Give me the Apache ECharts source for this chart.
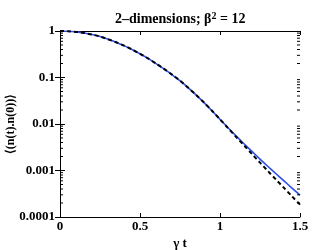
<!DOCTYPE html>
<html><head><meta charset="utf-8">
<script src="https://cdn.jsdelivr.net/npm/echarts@6/dist/echarts.min.js"></script>
<style>html,body{margin:0;padding:0;background:#fff}#c{width:332px;height:250px}</style>
</head><body><div id="c"></div>
<script>
const tValues = [0,0.05,0.1,0.15,0.2,0.25,0.3,0.35,0.4,0.45,0.5,0.55,0.6,0.65,0.7,0.75,0.8,0.85,0.9,0.95,1.0,1.05,1.1,1.15,1.2,1.25,1.3,1.35,1.4,1.45,1.5];
const blueValues = [1,0.989,0.957,0.906,0.839,0.76,0.665,0.574,0.485,0.401,0.324,0.257,0.1995,0.153,0.115,0.0853,0.0608,0.0424,0.0289,0.0193,0.0126,0.00832,0.00556,0.00376,0.00257,0.00176,0.00122,0.000851,0.000596,0.000419,0.000295];
const blackValues = [1,0.989,0.957,0.906,0.839,0.76,0.665,0.574,0.485,0.401,0.324,0.257,0.1995,0.153,0.115,0.0853,0.0608,0.0424,0.0289,0.0193,0.0126,0.00817,0.00531,0.00347,0.00226,0.00148,0.000966,0.000638,0.000422,0.000279,0.000184];
const yTickValues = [0.0001,0.001,0.01,0.1,1];
const yTickLabels = ['0.0001','0.001','0.01','0.1','1'];
const xTickLabels = ['0','0.5','1','1.5'];
const minorTickValues = [];
[0.0001,0.001,0.01,0.1].forEach(d=>{for(let k=2;k<=9;k++) minorTickValues.push(d*k);});

const font = '"Liberation Serif", "Times New Roman", serif';
const chart = echarts.init(document.getElementById('c'), null, {renderer:'canvas'});
const xMin = 0, xMax = 1.5;
chart.setOption({
  animation:false,
  backgroundColor:'#fff',
  title:{
    text:'2–dimensions; β{sup|2} = 12',
    left:110, top:6,
    textStyle:{fontFamily:font,fontWeight:'bold',fontSize:14,color:'#000',
      rich:{sup:{fontFamily:font,fontWeight:'bold',fontSize:10,verticalAlign:'top',padding:[0,0,7,0],color:'#000'}}}
  },
  grid:{left:60,right:32,top:31,bottom:33,show:false,outerBoundsMode:'none',containLabel:false},
  xAxis:[{
    type:'value',min:xMin,max:xMax,interval:0.5,position:'bottom',
    name:'γ t',nameLocation:'middle',nameGap:20,nameMoveOverlap:false,
    nameTextStyle:{fontFamily:font,fontWeight:'bold',fontSize:13,color:'#000'},
    axisLine:{show:true,lineStyle:{color:'#000',width:1}},
    axisTick:{show:true,inside:true,length:4,lineStyle:{color:'#000'}},
    axisLabel:{fontFamily:font,fontWeight:'bold',fontSize:13,color:'#000',margin:3,
      formatter:(v)=>{const i=Math.round(v/0.5);return xTickLabels[i]!==undefined?xTickLabels[i]:'';}},
    splitLine:{show:false}
  },{
    type:'value',min:xMin,max:xMax,interval:0.5,position:'top',
    axisLine:{show:true,lineStyle:{color:'#000',width:1}},
    axisTick:{show:true,inside:true,length:4,lineStyle:{color:'#000'}},
    axisLabel:{show:false},splitLine:{show:false}
  }],
  yAxis:[{
    type:'log',logBase:10,min:0.0001,max:1,position:'left',
    name:'⟨(n(t).n(0))⟩',nameLocation:'middle',nameGap:43,nameRotate:90,nameMoveOverlap:false,
    nameTextStyle:{fontFamily:font,fontWeight:'bold',fontSize:12,color:'#000'},
    axisLine:{show:true,lineStyle:{color:'#000',width:1}},
    axisTick:{show:true,inside:true,length:5,lineStyle:{color:'#000'}},
    axisLabel:{fontFamily:font,fontWeight:'bold',fontSize:13,color:'#000',margin:5,
      formatter:(v)=>{const i=yTickValues.findIndex(t=>Math.abs(Math.log10(t)-Math.log10(v))<1e-6);return i>=0?yTickLabels[i]:'';}},
    splitLine:{show:false}
  },{
    type:'log',logBase:10,min:0.0001,max:1,position:'right',
    axisLine:{show:true,lineStyle:{color:'#000',width:1}},
    axisTick:{show:true,inside:true,length:5,lineStyle:{color:'#000'}},
    axisLabel:{show:false},splitLine:{show:false}
  }],
  series:[
    {
      type:'custom',silent:true,clip:false,xAxisIndex:0,yAxisIndex:0,z:5,
      data:minorTickValues.map(v=>[xMin,v]),
      renderItem:(params,api)=>{
        const v=api.value(1);
        const pl=api.coord([xMin,v]);
        const pr=api.coord([xMax,v]);
        return {type:'group',children:[
          {type:'line',shape:{x1:pl[0],y1:pl[1],x2:pl[0]+3,y2:pl[1]},style:{stroke:'#000',lineWidth:1}},
          {type:'line',shape:{x1:pr[0],y1:pr[1],x2:pr[0]-3,y2:pr[1]},style:{stroke:'#000',lineWidth:1}}
        ]};
      }
    },
    {
      type:'line',xAxisIndex:0,yAxisIndex:0,smooth:0.3,showSymbol:false,
      data:tValues.map((t,i)=>[t,blueValues[i]]),
      lineStyle:{color:'#2a4ff0',width:1.6}
    },
    {
      type:'line',xAxisIndex:0,yAxisIndex:0,smooth:0.3,showSymbol:false,
      data:tValues.map((t,i)=>[t,blackValues[i]]),
      lineStyle:{color:'#000',width:2,type:[4,3]}
    }
  ]
});
</script></body></html>
